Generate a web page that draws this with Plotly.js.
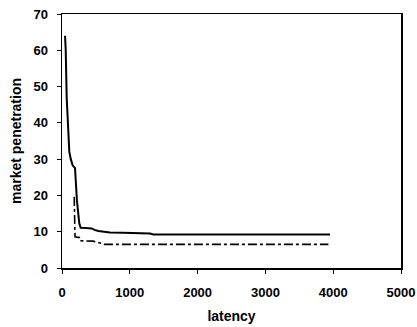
<!DOCTYPE html>
<html><head><meta charset="utf-8">
<script src="https://cdn.plot.ly/plotly-3.0.1.min.js"></script>
<style>body{margin:0;background:#fff}#c{width:417px;height:327px}</style>
</head><body><div id="c"></div>
<script>
const solidX = [45, 55, 69, 90, 108, 130, 157, 192, 200, 206, 220, 240, 255, 275, 300, 350, 438, 480, 536, 600, 708, 900, 1100, 1298, 1350, 2000, 3000, 3953];
const solidY = [64, 60, 47, 38, 32, 30, 28.3, 27.5, 24, 20.6, 18.7, 15, 12.3, 11.1, 11, 11, 10.9, 10.5, 10.2, 10, 9.8, 9.7, 9.6, 9.5, 9.25, 9.2, 9.2, 9.2];
const dashX = [180, 192, 220, 255, 265, 350, 462, 500, 560, 600, 634, 1000, 2000, 3000, 3930];
const dashY = [19.6, 8.6, 8.5, 8.4, 7.5, 7.5, 7.4, 7.2, 6.95, 6.8, 6.5, 6.5, 6.5, 6.5, 6.5];
const xTicks = [0, 1000, 2000, 3000, 4000, 5000];
const yTicks = [0, 10, 20, 30, 40, 50, 60, 70];

const FAM = 'Liberation Sans, Arial, sans-serif';
const tickFont = {family: FAM, size: 13, color: '#000', weight: 'bold'};
const titleFont = {family: FAM, size: 14, color: '#000', weight: 'bold'};
Plotly.newPlot('c', [
  {x: solidX, y: solidY, mode: 'lines', line: {color: '#000', width: 2}, hoverinfo: 'none'},
  {x: dashX, y: dashY, mode: 'lines', line: {color: '#000', width: 1.6, dash: 'dashdot'}, hoverinfo: 'none'}
], {
  width: 417, height: 327,
  margin: {l: 62, r: 16, t: 14, b: 59},
  showlegend: false,
  paper_bgcolor: '#fff', plot_bgcolor: '#fff',
  font: {family: FAM, size: 13, color: '#000'},
  xaxis: {
    range: [0, 5000], tickvals: xTicks, ticktext: xTicks.map(String),
    showgrid: false, zeroline: false, showline: true, linecolor: '#000', linewidth: 1.5,
    mirror: true, ticks: 'outside', ticklen: 4, tickcolor: '#000',
    ticklabelstandoff: 8,
    tickfont: tickFont,
    title: {text: 'latency', font: titleFont, standoff: 12}
  },
  yaxis: {
    range: [0, 70], tickvals: yTicks, ticktext: yTicks.map(String),
    showgrid: false, zeroline: false, showline: true, linecolor: '#000', linewidth: 1.5,
    mirror: true, ticks: 'outside', ticklen: 4, tickcolor: '#000',
    ticklabelstandoff: 6,
    tickfont: tickFont,
    title: {text: 'market penetration', font: titleFont, standoff: 8}
  }
}, {staticPlot: true, displayModeBar: false});
</script></body></html>
